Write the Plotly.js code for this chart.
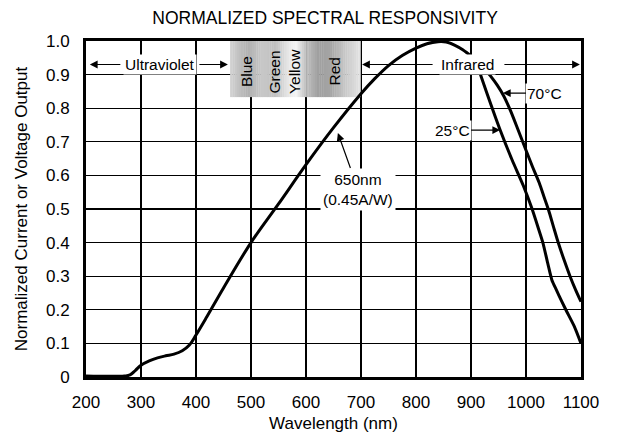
<!DOCTYPE html>
<html>
<head>
<meta charset="utf-8">
<script src="https://cdn.plot.ly/plotly-3.0.1.min.js"></script>
<style>html,body{margin:0;padding:0;background:#fff;}#chart{width:624px;height:444px;}</style>
</head>
<body>
<div id="chart"></div>
<script>
// ---- data ----
const wavelengthMain = [200, 270, 280, 290, 300, 315, 330, 345, 360, 375, 388, 400, 420, 450, 500, 550, 600, 650, 700, 725, 750, 775, 800, 820, 840, 855, 870, 885, 900];
const responseMain   = [0.003, 0.003, 0.006, 0.02, 0.035, 0.048, 0.057, 0.063, 0.068, 0.078, 0.095, 0.125, 0.18, 0.265, 0.40, 0.515, 0.632, 0.742, 0.843, 0.888, 0.927, 0.957, 0.979, 0.992, 0.998, 0.997, 0.988, 0.974, 0.955];

const wavelength25 = [912, 928, 953, 975, 995, 1010, 1022, 1031, 1040, 1047, 1055, 1065, 1074, 1088, 1100];
const response25   = [0.925, 0.849, 0.735, 0.645, 0.57, 0.505, 0.445, 0.398, 0.335, 0.289, 0.26, 0.225, 0.195, 0.15, 0.10];

const wavelength70 = [921, 935, 948, 960, 972, 985, 1000, 1012, 1024, 1033, 1041, 1050, 1059, 1070, 1080, 1090, 1100];
const response70   = [0.925, 0.897, 0.868, 0.835, 0.792, 0.738, 0.675, 0.625, 0.578, 0.535, 0.497, 0.447, 0.398, 0.345, 0.30, 0.26, 0.224];

const xTickVals = [200, 300, 400, 500, 600, 700, 800, 900, 1000, 1100];
const yTickVals = [0, 0.1, 0.2, 0.3, 0.4, 0.5, 0.6, 0.7, 0.8, 0.9, 1.0];
const yTickText = ['0', '0.1', '0.2', '0.3', '0.4', '0.5', '0.6', '0.7', '0.8', '0.9', '1.0'];

const bandLabels = ['Blue', 'Green', 'Yellow', 'Red'];
const bandLabelX = [493, 543, 580, 652];

// ---- styling ----
const FONT = 'Liberation Sans, Arial, Helvetica, sans-serif';
const lineStyle = {color: '#000', width: 3};

const traces = [
  {x: wavelengthMain, y: responseMain, mode: 'lines', line: Object.assign({shape: 'spline', smoothing: 1.0}, lineStyle), hoverinfo: 'skip'},
  {x: wavelength25, y: response25, mode: 'lines', line: Object.assign({shape: 'spline', smoothing: 0.6}, lineStyle), hoverinfo: 'skip'},
  {x: wavelength70, y: response70, mode: 'lines', line: Object.assign({shape: 'spline', smoothing: 0.8}, lineStyle), hoverinfo: 'skip'}
];

// gradient band (visible-light box)
const boxX0 = 462, boxX1 = 699, boxY0 = 0.833, boxY1 = 1.0;
const gradStops = [[462, 210], [494, 176], [520, 200], [544, 192], [571, 236], [582, 244], [600, 192], [622, 160], [644, 164], [671, 200], [699, 228]];
function grayAt(v) {
  for (let i = 0; i < gradStops.length - 1; i++) {
    const a = gradStops[i], b = gradStops[i + 1];
    if (v >= a[0] && v <= b[0]) {
      const t = (v - a[0]) / (b[0] - a[0]);
      return Math.round(a[1] + t * (b[1] - a[1]));
    }
  }
  return gradStops[gradStops.length - 1][1];
}
const shapes = [];
const nStrips = 60;
for (let i = 0; i < nStrips; i++) {
  const x0 = boxX0 + (boxX1 - boxX0) * i / nStrips;
  const x1 = boxX0 + (boxX1 - boxX0) * (i + 1) / nStrips;
  const g = grayAt((x0 + x1) / 2);
  shapes.push({type: 'rect', xref: 'x', yref: 'y', x0: x0, x1: x1 + 0.6, y0: boxY0, y1: boxY1,
    fillcolor: 'rgb(' + g + ',' + g + ',' + g + ')', line: {width: 0}, layer: 'between'});
}

const annFont = {family: FONT, size: 15.5, color: '#000'};
const arrow = {showarrow: true, arrowhead: 2, arrowsize: 1.3, arrowwidth: 1.2, arrowcolor: '#000', xref: 'x', yref: 'y'};
const annotations = [
  Object.assign({x: 334, y: 0.93, text: 'Ultraviolet', showarrow: false, bgcolor: '#fff', font: annFont, xref: 'x', yref: 'y', borderpad: 1}),
  Object.assign({}, arrow, {x: 207, y: 0.93, text: '', ax: 32, ay: 0}),
  Object.assign({}, arrow, {x: 458, y: 0.93, text: '', ax: -30, ay: 0}),
  Object.assign({x: 893, y: 0.93, text: 'Infrared', showarrow: false, bgcolor: '#fff', font: annFont, xref: 'x', yref: 'y', borderpad: 1}),
  Object.assign({}, arrow, {x: 702, y: 0.93, text: '', ax: 72, ay: 0}),
  Object.assign({}, arrow, {x: 1098, y: 0.93, text: '', ax: -77, ay: 0}),
  Object.assign({}, arrow, {x: 958, y: 0.845, text: '70°C', ax: 42, ay: 0, font: annFont, bgcolor: '#fff'}),
  Object.assign({}, arrow, {x: 953, y: 0.735, text: '25°C', ax: -48, ay: 0, font: annFont, bgcolor: '#fff'}),
  Object.assign({}, arrow, {x: 658, y: 0.726, text: '650nm<br>(0.45A/W)', ax: 20, ay: 56, font: annFont, bgcolor: '#fff', borderpad: 2})
];
bandLabels.forEach(function (lab, i) {
  annotations.push({x: bandLabelX[i], y: 0.908, text: lab, textangle: -90, showarrow: false, font: annFont, xref: 'x', yref: 'y'});
});

const layout = {
  width: 624, height: 444,
  margin: {l: 86, r: 43, t: 41, b: 67},
  paper_bgcolor: '#fff', plot_bgcolor: '#fff',
  showlegend: false,
  font: {family: FONT, size: 18, color: '#000'},
  title: {text: 'NORMALIZED SPECTRAL RESPONSIVITY', font: {family: FONT, size: 17.5, color: '#000'},
          x: 0.483, xref: 'paper', xanchor: 'center', y: 1 - 18 / 444, yref: 'container', yanchor: 'middle'},
  xaxis: {range: [200, 1100], tickvals: xTickVals, ticktext: xTickVals.map(String),
          showgrid: true, gridcolor: '#000', gridwidth: 1.2, zeroline: false,
          showline: true, mirror: true, linecolor: '#000', linewidth: 3, ticks: '',
          tickfont: {family: FONT, size: 17, color: '#000'}, ticklabelstandoff: 8,
          title: {text: 'Wavelength (nm)', font: {family: FONT, size: 17, color: '#000'}, standoff: 6}},
  yaxis: {range: [0, 1], tickvals: yTickVals, ticktext: yTickText,
          showgrid: true, gridcolor: '#000', gridwidth: 1.2, zeroline: false,
          showline: true, mirror: true, linecolor: '#000', linewidth: 3, ticks: '',
          tickfont: {family: FONT, size: 17, color: '#000'}, ticklabelstandoff: 10,
          title: {text: 'Normalized Current or Voltage Output', font: {family: FONT, size: 17, color: '#000'}, standoff: 15}},
  shapes: shapes,
  annotations: annotations
};

Plotly.newPlot('chart', traces, layout, {staticPlot: true, displayModeBar: false});
</script>
</body>
</html>
